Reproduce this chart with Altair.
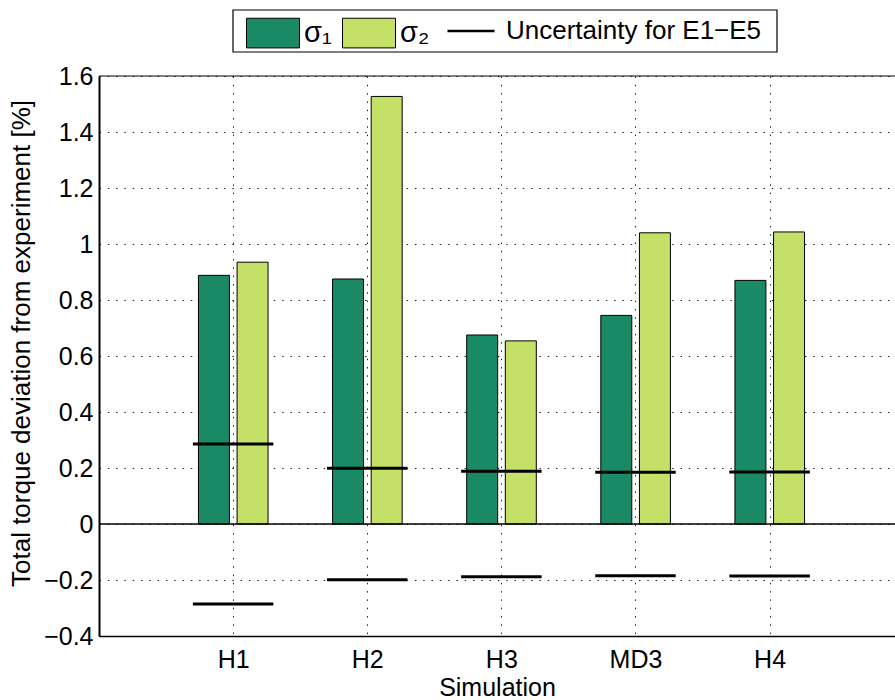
import altair as alt
import pandas as pd

# Simulations and their deviations from experiment (in %)
sims = ["H1", "H2", "H3", "MD3", "H4"]
sigma1 = [0.888, 0.875, 0.675, 0.745, 0.870]
sigma2 = [0.935, 1.527, 0.654, 1.040, 1.043]
uncert = [0.286, 0.199, 0.188, 0.185, 0.186]

series_names = ["σ₁", "σ₂"]
series_colors = ["#1a8a66", "#c5e067"]
unc_label = "Uncertainty for E1−E5"

y_ticks = [-0.4, -0.2, 0, 0.2, 0.4, 0.6, 0.8, 1.0, 1.2, 1.4, 1.6]

FONT = "Liberation Sans"
W, H = 796, 560
PAD_L, PAD_T = 99, 76

bars = pd.DataFrame(
    [{"pos": i + 1, "series": series_names[0], "shift": -0.143, "value": v}
     for i, v in enumerate(sigma1)]
    + [{"pos": i + 1, "series": series_names[1], "shift": 0.145, "value": v}
       for i, v in enumerate(sigma2)]
)

unc = pd.DataFrame(
    [{"pos": i + 1, "kind": unc_label, "u": s * u}
     for i, u in enumerate(uncert) for s in (1, -1)]
)

x_scale = alt.Scale(domain=[0, 5.935], nice=False, zero=False)
y_scale = alt.Scale(domain=[-0.4, 1.6], nice=False, zero=False)

label_expr = "[" + ",".join(f"'{s}'" for s in sims) + "][datum.value - 1]"

x_axis = alt.Axis(
    values=[1, 2, 3, 4, 5], labelExpr=label_expr, title="Simulation",
    grid=True, gridDash=[1.5, 6.8], gridColor="#222", gridWidth=1,
    domainColor="black", domainWidth=1.5, tickSize=0, labelPadding=11,
    labelFontSize=25, labelColor="black", titleFontSize=25,
    titleFontWeight="normal", titleColor="black", titleX=398, titleY=51,
    titleBaseline="middle", titleAlign="center",
)
y_axis = alt.Axis(
    values=y_ticks, format="~g", title="Total torque deviation from experiment [%]",
    grid=True, gridDash=[1.5, 6.8], gridColor="#222", gridWidth=1,
    domainColor="black", domainWidth=2, tickSize=0, labelPadding=6,
    labelFontSize=25, labelColor="black", titleFontSize=26,
    titleFontWeight="normal", titleColor="black", titleX=-78, titleY=H / 2 - 13,
    titleAngle=270, titleBaseline="middle", titleAlign="center",
)

# frame for the legend row above the plot
legend_box = alt.Chart(alt.Data(values=[{}])).mark_rect(
    fill="white", stroke="black", strokeWidth=1.2
).encode(
    x=alt.value(134), x2=alt.value(678), y=alt.value(-66), y2=alt.value(-24)
)

bar_layer = alt.Chart(bars).transform_calculate(
    x0="datum.pos + datum.shift - 0.1155",
    x1="datum.pos + datum.shift + 0.1155",
).mark_bar(stroke="black", strokeWidth=1).encode(
    x=alt.X("x0:Q", scale=x_scale, axis=x_axis),
    x2="x1:Q",
    y=alt.Y("value:Q", scale=y_scale, axis=y_axis),
    y2=alt.datum(0),
    fill=alt.Fill(
        "series:N",
        scale=alt.Scale(domain=series_names, range=series_colors),
        legend=alt.Legend(
            title=None, orient="none", direction="horizontal",
            legendX=147, legendY=-70, padding=0,
            symbolType="M-1,-0.56L1,-0.56L1,0.56L-1,0.56Z", symbolSize=2809,
            symbolStrokeColor="black", symbolStrokeWidth=1, symbolOpacity=1,
            labelFont=FONT, labelFontSize=29, labelColor="black",
            labelOffset=4, columnPadding=8, labelLimit=200,
        ),
    ),
)

unc_layer = alt.Chart(unc).transform_calculate(
    xa="datum.pos - 0.3", xb="datum.pos + 0.3"
).mark_rule(strokeWidth=3).encode(
    x=alt.X("xa:Q", scale=x_scale),
    x2="xb:Q",
    y=alt.Y("u:Q", scale=y_scale),
    stroke=alt.Stroke(
        "kind:N",
        scale=alt.Scale(domain=[unc_label], range=["black"]),
        legend=alt.Legend(
            title=None, orient="none", legendX=347, legendY=-70, padding=0,
            symbolType="stroke", symbolSize=2209, symbolStrokeWidth=2.5,
            labelFont=FONT, labelFontSize=26, labelColor="black",
            labelOffset=10, labelLimit=400,
        ),
    ),
)

zero_line = alt.Chart(alt.Data(values=[{}])).mark_rule(
    color="black", strokeWidth=1.3
).encode(y=alt.datum(0, scale=y_scale))

top_line = alt.Chart(alt.Data(values=[{}])).mark_rule(
    color="black", strokeWidth=1.2
).encode(y=alt.datum(1.6, scale=y_scale))

chart = alt.layer(
    legend_box, bar_layer, zero_line, top_line, unc_layer
).resolve_scale(x="shared", y="shared").properties(
    width=W, height=H,
    autosize=alt.AutoSizeParams(type="none"),
    padding={"left": PAD_L, "top": PAD_T, "right": 0, "bottom": 700 - PAD_T - H},
    background="white",
).configure(font=FONT).configure_view(stroke=None)

chart.save("out.html", embed_options={"renderer": "svg", "actions": False})
